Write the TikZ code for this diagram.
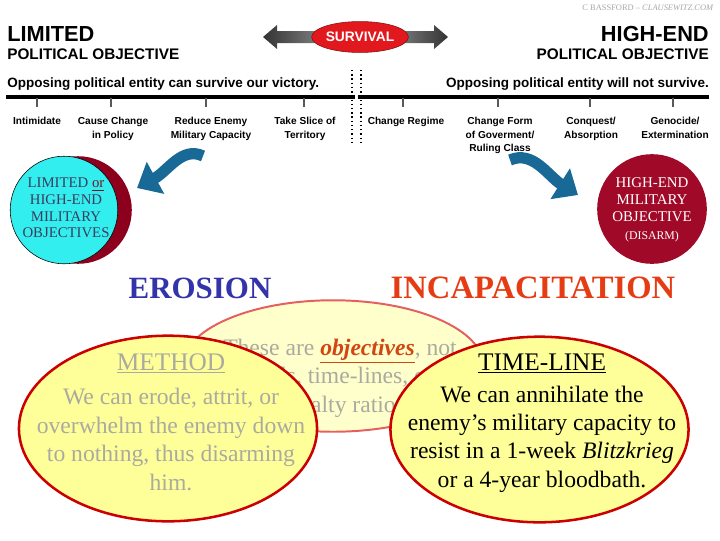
\documentclass[tikz,border=0pt]{standalone}
\usepackage{fontspec}
\setmainfont{Liberation Serif}
\setsansfont{Liberation Sans}
\usetikzlibrary{arrows.meta,shapes.geometric}

\definecolor{swoosh}{RGB}{25,105,150}
\definecolor{survred}{RGB}{225,25,30}
\definecolor{cyanobj}{RGB}{51,238,238}
\definecolor{darkcres}{RGB}{140,0,30}
\definecolor{highred}{RGB}{160,10,40}
\definecolor{slate}{RGB}{60,60,95}
\definecolor{orred}{RGB}{120,20,40}
\definecolor{erosblue}{RGB}{51,51,170}
\definecolor{incaporange}{RGB}{230,60,20}
\definecolor{paleyel}{RGB}{255,255,204}
\definecolor{backedge}{RGB}{230,95,95}
\definecolor{yel}{RGB}{255,255,153}
\definecolor{frontedge}{RGB}{204,0,0}
\definecolor{fadetext}{RGB}{170,170,160}
\definecolor{objcol}{RGB}{210,70,20}

\begin{document}
\begin{tikzpicture}[x=0.025cm,y=-0.025cm,>=Stealth]
\tikzstyle{big}=[inner sep=0pt,font=\sffamily\bfseries\fontsize{15.5}{17}\selectfont]
\tikzstyle{sub}=[inner sep=0pt,font=\sffamily\bfseries\fontsize{10.9}{12}\selectfont]
\tikzstyle{claim}=[inner sep=0pt,font=\sffamily\bfseries\fontsize{9.6}{11}\selectfont]
\tikzstyle{lbl}=[align=center,inner sep=0pt,anchor=north,font=\sffamily\bfseries\fontsize{7.2}{9.9}\selectfont]
\tikzstyle{tick}=[line width=1.1pt,black!65]
\tikzstyle{heavy}=[inner sep=0pt,anchor=base,font=\bfseries\fontsize{22}{24}\selectfont]
\tikzstyle{ttl}=[inner sep=0pt,anchor=base,font=\fontsize{18}{20}\selectfont]
\tikzstyle{body}=[inner sep=0pt,align=center,font=\fontsize{16.8}{20.2}\selectfont]
\tikzstyle{front}=[ellipse,draw=frontedge,line width=1.8pt,fill=yel,inner sep=0pt,minimum width=212pt,minimum height=132pt]
\useasboundingbox (0,0) rectangle (720,540);

% header
\node[inner sep=0pt,text=black!35,font=\fontsize{6}{7}\selectfont] (credit) at (648,8) {C BASSFORD -- \textit{CLAUSEWITZ.COM}};
\node[big,anchor=base west] (lim) at (7,41) {LIMITED};
\node[sub,anchor=base west] (limpo) at (7,59) {POLITICAL OBJECTIVE};
\node[big,anchor=base east] (high) at (709,41) {HIGH-END};
\node[sub,anchor=base east] (highpo) at (709,59) {POLITICAL OBJECTIVE};

% survival arrow
\shade[left color=black!80,right color=black!30] (263,37) -- (277,25) -- (277,31) -- (360,31) -- (360,43) -- (277,43) -- (277,49) -- cycle;
\shade[left color=black!30,right color=black!80] (448,37) -- (434,25) -- (434,31) -- (360,31) -- (360,43) -- (434,43) -- (434,49) -- cycle;
\node[ellipse,fill=survred,draw=survred!60!black,minimum width=58pt,minimum height=22pt,inner sep=0pt,text=white,font=\sffamily\bfseries\fontsize{9.8}{11}\selectfont] (surv) at (360,37) {SURVIVAL};

\node[claim,anchor=base west] (cansurv) at (7,87) {Opposing political entity can survive our victory.};
\node[claim,anchor=base east] (notsurv) at (709,87) {Opposing political entity will not survive.};

% scale line
\draw[line width=2.2pt] (6,97) -- (355,97);
\draw[line width=2.2pt] (358,97) -- (709,97);
\draw[dotted,line width=1pt] (352,70) -- (352,143);
\draw[dotted,line width=1pt] (361,70) -- (361,143);
\foreach \x in {37,111,206,304,403,498,590,673}
  \draw[tick] (\x,98) -- (\x,107);

\node[lbl] (intim) at (37,116.5) {Intimidate};
\node[lbl] (policy) at (113,116.5) {Cause Change\\in Policy};
\node[lbl] (reduce) at (211,116.5) {Reduce Enemy\\Military Capacity};
\node[lbl] (slice) at (305,116.5) {Take Slice of\\Territory};
\node[lbl] (regime) at (406,116.5) {Change Regime};
\node[lbl] (form) at (500,116.5) {Change Form\\of Goverment/\\Ruling Class};
\node[lbl] (conq) at (591,116.5) {Conquest/\\Absorption};
\node[lbl] (geno) at (675,116.5) {Genocide/\\Extermination};

% swooshes
\coordinate (lsw) at (203,156);
\coordinate (ltip) at (137,188);
\coordinate (rsw) at (510,160);
\coordinate (rtip) at (578,195);
\draw[swoosh,line width=8pt,-{Triangle[length=15pt,width=25pt]}] (lsw) .. controls (182,146) and (168,171) .. (ltip);
\draw[swoosh,line width=8pt,-{Triangle[length=15pt,width=25pt]}] (rsw) .. controls (533,150) and (548,176) .. (rtip);

% military objective circles
\node[circle,fill=darkcres,minimum size=76.5pt,inner sep=0pt] (cres) at (78,210) {};
\node[circle,fill=cyanobj,draw=black,line width=0.4pt,minimum size=76.5pt,inner sep=0pt] (limobj) at (64,210) {};
\node[align=center,inner sep=0pt,text=slate,font=\fontsize{10.5}{11.8}\selectfont] (limtxt) at (66,208) {LIMITED \textcolor{orred}{\underline{or}}\\HIGH-END\\MILITARY\\OBJECTIVES};
\node[circle,fill=highred,minimum size=78pt,inner sep=0pt] (highobj) at (652,209) {};
\node[align=center,inner sep=0pt,text=white,font=\fontsize{10.6}{12.4}\selectfont] (hightxt) at (652,209.5) {HIGH-END\\MILITARY\\OBJECTIVE\\{\fontsize{8.4}{10}\selectfont(DISARM)}};

% headings
\node[heavy,text=erosblue] (eros) at (200,298) {EROSION};
\node[heavy,text=incaporange,font=\bfseries\fontsize{23.2}{25}\selectfont] (incap) at (533,298) {INCAPACITATION};

% ellipses
\node[ellipse,draw=backedge,line width=1.4pt,fill=paleyel,inner sep=0pt,minimum width=214pt,minimum height=93.5pt] (objs) at (333,366) {};
\node[body,text=fadetext] (objtxt) at (340,378) {These are \textcolor{objcol}{\underline{\textbf{\textit{objectives}}}}, not\\goals, time-lines, or\\casualty ratios.};

\node[front] (meth) at (168,428.5) {};
\node[ttl,text=fadetext] (methttl) at (171,370) {\underline{METHOD}};
\node[body,text=fadetext] (methtxt) at (171,439.5) {We can erode, attrit, or\\overwhelm the enemy down\\to nothing, thus disarming\\him.};

\node[front] (tline) at (539.5,429.5) {};
\node[ttl] (tlinettl) at (542,370) {\underline{TIME-LINE}};
\node[body] (tlinetxt) at (542,439) {We can annihilate the\\enemy’s military capacity to\\resist in a 1-week \textit{Blitzkrieg}\\or a 4-year bloodbath.};
\end{tikzpicture}
\end{document}
